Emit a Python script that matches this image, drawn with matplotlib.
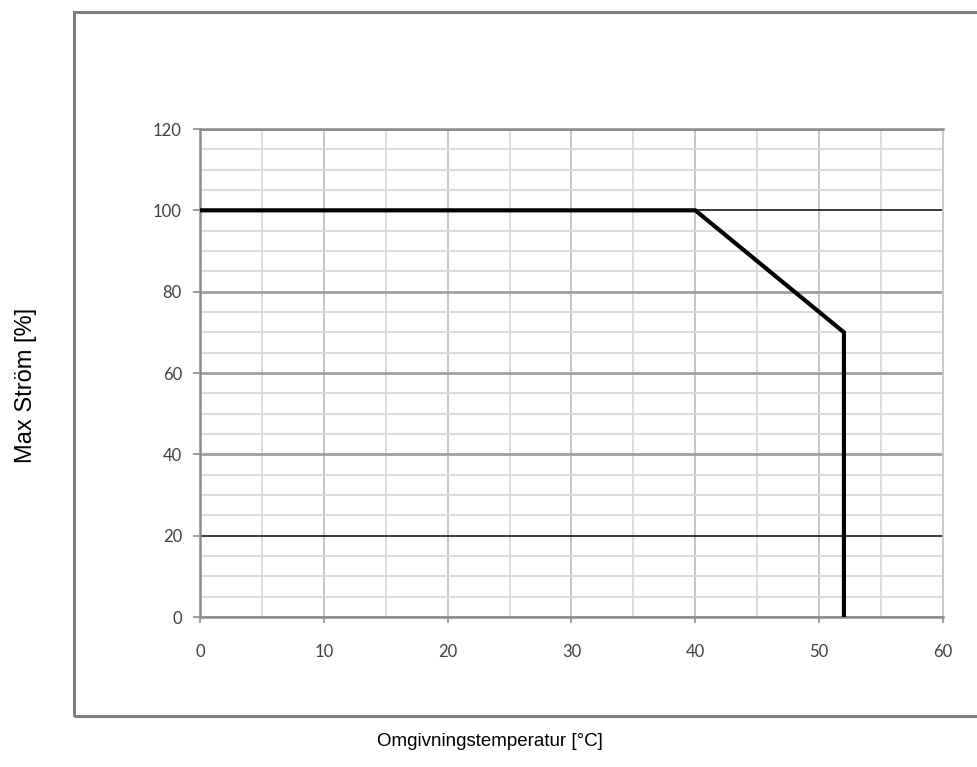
import numpy as np
import matplotlib.pyplot as plt
from matplotlib.patches import Rectangle

# Derating-kurva: max ström vs omgivningstemperatur
temp = [0, 40, 52, 52]
strom = [100, 100, 70, 0]

x_ticks = [0, 10, 20, 30, 40, 50, 60]
y_ticks = [0, 20, 40, 60, 80, 100, 120]

fig = plt.figure(figsize=(9.78, 7.67), dpi=100)

# yttre ram runt diagrammet
fig.patches.append(Rectangle((74 / 978, 1 - 716 / 767), 1.0, (716 - 12) / 767,
                             transform=fig.transFigure, fill=False,
                             edgecolor="#7f7f7f", linewidth=2.2))

ax = fig.add_axes([200 / 978, 1 - 617 / 767, 743 / 978, 488 / 767])
ax.set_xlim(0, 60)
ax.set_ylim(0, 120)

ax.set_xticks(x_ticks)
ax.set_yticks(y_ticks)
ax.set_xticks(np.arange(0, 61, 5), minor=True)
ax.set_yticks(np.arange(0, 121, 5), minor=True)

ax.grid(which="minor", color="#d9d9d9", linewidth=1.3)
ax.grid(which="major", axis="x", color="#bfbfbf", linewidth=1.3)
ax.grid(which="major", axis="y", color="#a0a0a0", linewidth=2.0)
for tick, loc in zip(ax.yaxis.get_major_ticks(), ax.get_yticks()):
    if loc in (20, 100):
        tick.gridline.set_color("#1a1a1a")
        tick.gridline.set_linewidth(1.2)
ax.set_axisbelow(True)

ax.plot(temp, strom, color="black", linewidth=3.0, solid_joinstyle="miter", zorder=5)

for side in ["left", "bottom", "top"]:
    ax.spines[side].set_color("#8c8c8c")
    ax.spines[side].set_linewidth(1.8)
ax.spines["right"].set_color("#c8c8c8")
ax.spines["right"].set_linewidth(1.3)

ax.tick_params(axis="y", which="major", length=5, width=1.2, color="#8c8c8c",
               pad=8, labelsize=12, labelcolor="#404040")
ax.tick_params(axis="x", which="major", length=4.3, width=1.2, color="#8c8c8c",
               pad=15, labelsize=12, labelcolor="#404040")
ax.tick_params(which="minor", length=0)
for lbl in ax.get_xticklabels() + ax.get_yticklabels():
    lbl.set_family("Lato")

fig.text(490 / 978, 1 - 742 / 767, "Omgivningstemperatur [°C]", ha="center", va="center",
         fontsize=13.5, family="Liberation Sans", color="black")
fig.text(26 / 978, 1 - 385 / 767, "Max Ström [%]", ha="center", va="center", rotation=90,
         fontsize=17, family="Liberation Sans", color="black")

fig.savefig("out.png", dpi=100)
